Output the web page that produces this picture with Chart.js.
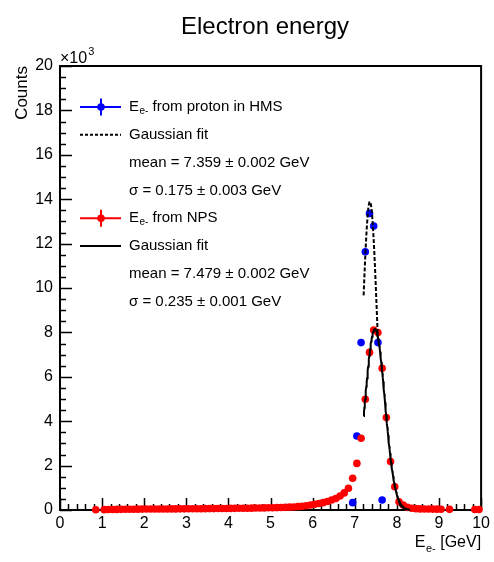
<!DOCTYPE html>
<html>
<head>
<meta charset="utf-8">
<title>Electron energy</title>
<script src="https://cdn.jsdelivr.net/npm/chart.js@4.4.1/dist/chart.umd.min.js"></script>
<style>
  html, body { margin: 0; padding: 0; background: #fff; }
  #wrap { width: 494px; height: 562px; position: relative; }
</style>
</head>
<body>
<div id="wrap"><canvas id="chart"></canvas></div>
<script>
// 0.1 GeV bins, centre of each filled bin
const npsEnergy = [
  0.85,
  1.05, 1.15, 1.25, 1.35, 1.45, 1.55, 1.65, 1.75, 1.85, 1.95,
  2.05, 2.15, 2.25, 2.35, 2.45, 2.55, 2.65, 2.75, 2.85, 2.95,
  3.05, 3.15, 3.25, 3.35, 3.45, 3.55, 3.65, 3.75, 3.85, 3.95,
  4.05, 4.15, 4.25, 4.35, 4.45, 4.55, 4.65, 4.75, 4.85, 4.95,
  5.05, 5.15, 5.25, 5.35, 5.45, 5.55, 5.65, 5.75, 5.85, 5.95,
  6.05, 6.15, 6.25, 6.35, 6.45, 6.55, 6.65, 6.75, 6.85, 6.95,
  7.05, 7.15, 7.25, 7.35, 7.45, 7.55, 7.65, 7.75, 7.85, 7.95,
  8.05, 8.15, 8.25, 8.35, 8.45, 8.55, 8.65, 8.75, 8.85, 8.95,
  9.05, 9.25, 9.85, 9.95
];
const npsCounts = [
  10,
  15, 20, 25, 28, 30, 33, 35, 37, 39, 41,
  43, 44, 45, 46, 47, 48, 49, 50, 51, 52,
  54, 55, 57, 58, 60, 62, 64, 66, 68, 70,
  72, 74, 76, 78, 81, 84, 87, 90, 94, 98,
  103, 108, 114, 120, 128, 137, 150, 168, 192, 225,
  260, 295, 330, 380, 450, 520, 630, 770, 980, 1430,
  2100, 3230, 4990, 7100, 8110, 7990, 6380, 4170, 2180, 1050,
  370, 220, 120, 80, 60, 50, 45, 42, 40, 38,
  36, 30, 20, 20
];
const hmsEnergy = [6.95, 7.05, 7.15, 7.25, 7.35, 7.45, 7.55, 7.65];
const hmsCounts = [330, 3330, 7540, 11630, 13360, 12790, 7540, 450];

// gaussian fit results: [mean, sigma, amplitude, range low, range high]
const hmsFit = [7.359, 0.175, 13890, 7.21, 7.55];
const npsFit = [7.479, 0.235, 8150, 7.21, 8.30];

const xTicks = [0, 1, 2, 3, 4, 5, 6, 7, 8, 9, 10];
const yTickLabels = [0, 2, 4, 6, 8, 10, 12, 14, 16, 18, 20];

const FONT = '"Liberation Sans", Arial, Helvetica, sans-serif';

function gausCurve(fit) {
  const [mean, sigma, amp, lo, hi] = fit;
  const pts = [];
  const n = 120;
  for (let i = 0; i <= n; i++) {
    const x = lo + (hi - lo) * i / n;
    pts.push({ x: x, y: amp * Math.exp(-0.5 * Math.pow((x - mean) / sigma, 2)) });
  }
  return pts;
}

function toPoints(xs, ys) {
  return xs.map((x, i) => ({ x: x, y: ys[i] }));
}

// E with "e-" subscript, then the rest of the string; returns end x
function drawEsub(ctx, x, y, size, rest) {
  ctx.font = size + 'px ' + FONT;
  ctx.fillText('E', x, y);
  x += ctx.measureText('E').width;
  const sub = Math.round(size * 0.68);
  ctx.font = sub + 'px ' + FONT;
  ctx.fillText('e-', x + 0.5, y + size * 0.3);
  x += ctx.measureText('e-').width + 0.5;
  ctx.font = size + 'px ' + FONT;
  ctx.fillText(rest, x, y);
  return x + ctx.measureText(rest).width;
}

const frameTicks = {
  id: 'frameTicks',
  beforeDatasetsDraw(chart) {
    const { ctx, chartArea: a, scales } = chart;
    const xs = scales.x, ys = scales.y;
    ctx.save();
    ctx.strokeStyle = '#000';
    ctx.lineWidth = 1.5;
    ctx.beginPath();
    for (let v = 0; v <= 10.0001; v += 0.2) {
      const px = Math.round(xs.getPixelForValue(v)) + 0.5;
      const major = Math.abs(v - Math.round(v)) < 1e-6;
      ctx.moveTo(px, a.bottom);
      ctx.lineTo(px, a.bottom - (major ? 12 : 6));
    }
    for (let v = 0; v <= 20000; v += 500) {
      const py = Math.round(ys.getPixelForValue(v)) + 0.5;
      const major = v % 2000 === 0;
      ctx.moveTo(a.left, py);
      ctx.lineTo(a.left + (major ? 12 : 6), py);
    }
    ctx.stroke();
    ctx.lineWidth = 2;
    ctx.strokeRect(a.left, a.top, a.right - a.left, a.bottom - a.top);
    ctx.restore();
  },
  afterDraw(chart) {
    const { ctx, chartArea: a } = chart;
    ctx.save();
    ctx.fillStyle = '#000';
    ctx.textBaseline = 'alphabetic';

    // title
    ctx.font = '24px ' + FONT;
    ctx.textAlign = 'center';
    ctx.fillText('Electron energy', 265, 34);

    // exponent of the y axis
    ctx.textAlign = 'left';
    ctx.font = '16px ' + FONT;
    ctx.fillText('\u00d710', a.left, 63);
    const w = ctx.measureText('\u00d710').width;
    ctx.font = '11px ' + FONT;
    ctx.fillText('3', a.left + w + 1, 55);

    // y title
    ctx.save();
    ctx.translate(27, a.top);
    ctx.rotate(-Math.PI / 2);
    ctx.textAlign = 'right';
    ctx.font = '17px ' + FONT;
    ctx.fillText('Counts', 0, 0);
    ctx.restore();

    // x title, right aligned at the frame edge
    ctx.font = '16px ' + FONT;
    const eW = ctx.measureText('E').width + ctx.measureText(' [GeV]').width;
    ctx.font = '11px ' + FONT;
    const sW = ctx.measureText('e-').width + 0.5;
    drawEsub(ctx, a.right - eW - sW, 547, 16, ' [GeV]');

    // legend
    const lx0 = 80, lx1 = 121, mx = 101, tx = 129;
    const row = i => 107 + i * 27.8;
    ctx.textBaseline = 'middle';

    const markerEntry = (i, color) => {
      const y = row(i);
      ctx.strokeStyle = color;
      ctx.fillStyle = color;
      ctx.lineWidth = 2;
      ctx.setLineDash([]);
      ctx.beginPath();
      ctx.moveTo(lx0, y); ctx.lineTo(lx1, y);
      ctx.moveTo(mx, y - 8.5); ctx.lineTo(mx, y + 8.5);
      ctx.stroke();
      ctx.beginPath();
      ctx.arc(mx, y, 3.8, 0, Math.PI * 2);
      ctx.fill();
      ctx.fillStyle = '#000';
    };
    const lineEntry = (i, dash) => {
      const y = row(i);
      ctx.strokeStyle = '#000';
      ctx.lineWidth = 2;
      ctx.setLineDash(dash);
      ctx.beginPath();
      ctx.moveTo(lx0, y); ctx.lineTo(lx1, y);
      ctx.stroke();
      ctx.setLineDash([]);
    };

    markerEntry(0, '#0000ff');
    drawEsub(ctx, tx, row(0), 15, ' from proton in HMS');
    lineEntry(1, [3, 2]);
    ctx.font = '15px ' + FONT;
    ctx.fillText('Gaussian fit', tx, row(1));
    ctx.fillText('mean = ' + hmsFit[0].toFixed(3) + ' \u00b1 0.002 GeV', tx, row(2));
    ctx.fillText('\u03c3 = ' + hmsFit[1].toFixed(3) + ' \u00b1 0.003 GeV', tx, row(3));

    markerEntry(4, '#ff0000');
    drawEsub(ctx, tx, row(4), 15, ' from NPS');
    lineEntry(5, []);
    ctx.font = '15px ' + FONT;
    ctx.fillText('Gaussian fit', tx, row(5));
    ctx.fillText('mean = ' + npsFit[0].toFixed(3) + ' \u00b1 0.002 GeV', tx, row(6));
    ctx.fillText('\u03c3 = ' + npsFit[1].toFixed(3) + ' \u00b1 0.001 GeV', tx, row(7));

    ctx.restore();
  }
};

new Chart(document.getElementById('chart'), {
  type: 'scatter',
  data: {
    datasets: [
      {
        label: 'Gaussian fit (NPS)',
        type: 'line',
        data: gausCurve(npsFit),
        borderColor: '#000',
        borderWidth: 2,
        pointRadius: 0,
        fill: false,
        clip: false,
        order: 0
      },
      {
        label: 'Gaussian fit (HMS)',
        type: 'line',
        data: gausCurve(hmsFit),
        borderColor: '#000',
        borderWidth: 2,
        borderDash: [4, 2],
        pointRadius: 0,
        fill: false,
        clip: false,
        order: 1
      },
      {
        label: 'E from NPS',
        data: toPoints(npsEnergy, npsCounts),
        backgroundColor: '#ff0000',
        borderWidth: 0,
        pointRadius: 3.8,
        clip: false,
        order: 2
      },
      {
        label: 'E from proton in HMS',
        data: toPoints(hmsEnergy, hmsCounts),
        backgroundColor: '#0000ff',
        borderWidth: 0,
        pointRadius: 3.8,
        clip: false,
        order: 3
      }
    ]
  },
  options: {
    responsive: true,
    maintainAspectRatio: false,
    animation: false,
    layout: { padding: { top: 66, right: 12, bottom: 12, left: 0 } },
    plugins: {
      legend: { display: false },
      title: { display: false },
      tooltip: { enabled: false }
    },
    scales: {
      x: {
        type: 'linear',
        min: 0,
        max: 10,
        afterFit(scale) { scale.height = 40; },
        afterBuildTicks(scale) { scale.ticks = xTicks.map(v => ({ value: v })); },
        grid: { display: false, drawTicks: false },
        border: { display: false },
        ticks: {
          padding: 4,
          maxRotation: 0,
          autoSkip: false,
          color: '#000',
          font: { family: FONT, size: 16 }
        }
      },
      y: {
        type: 'linear',
        min: 0,
        max: 20000,
        afterFit(scale) { scale.width = 60; },
        afterBuildTicks(scale) { scale.ticks = yTickLabels.map(v => ({ value: v * 1000 })); },
        grid: { display: false, drawTicks: false },
        border: { display: false },
        ticks: {
          padding: 7,
          autoSkip: false,
          color: '#000',
          font: { family: FONT, size: 16 },
          callback: v => String(v / 1000)
        }
      }
    }
  },
  plugins: [frameTicks]
});
</script>
</body>
</html>
